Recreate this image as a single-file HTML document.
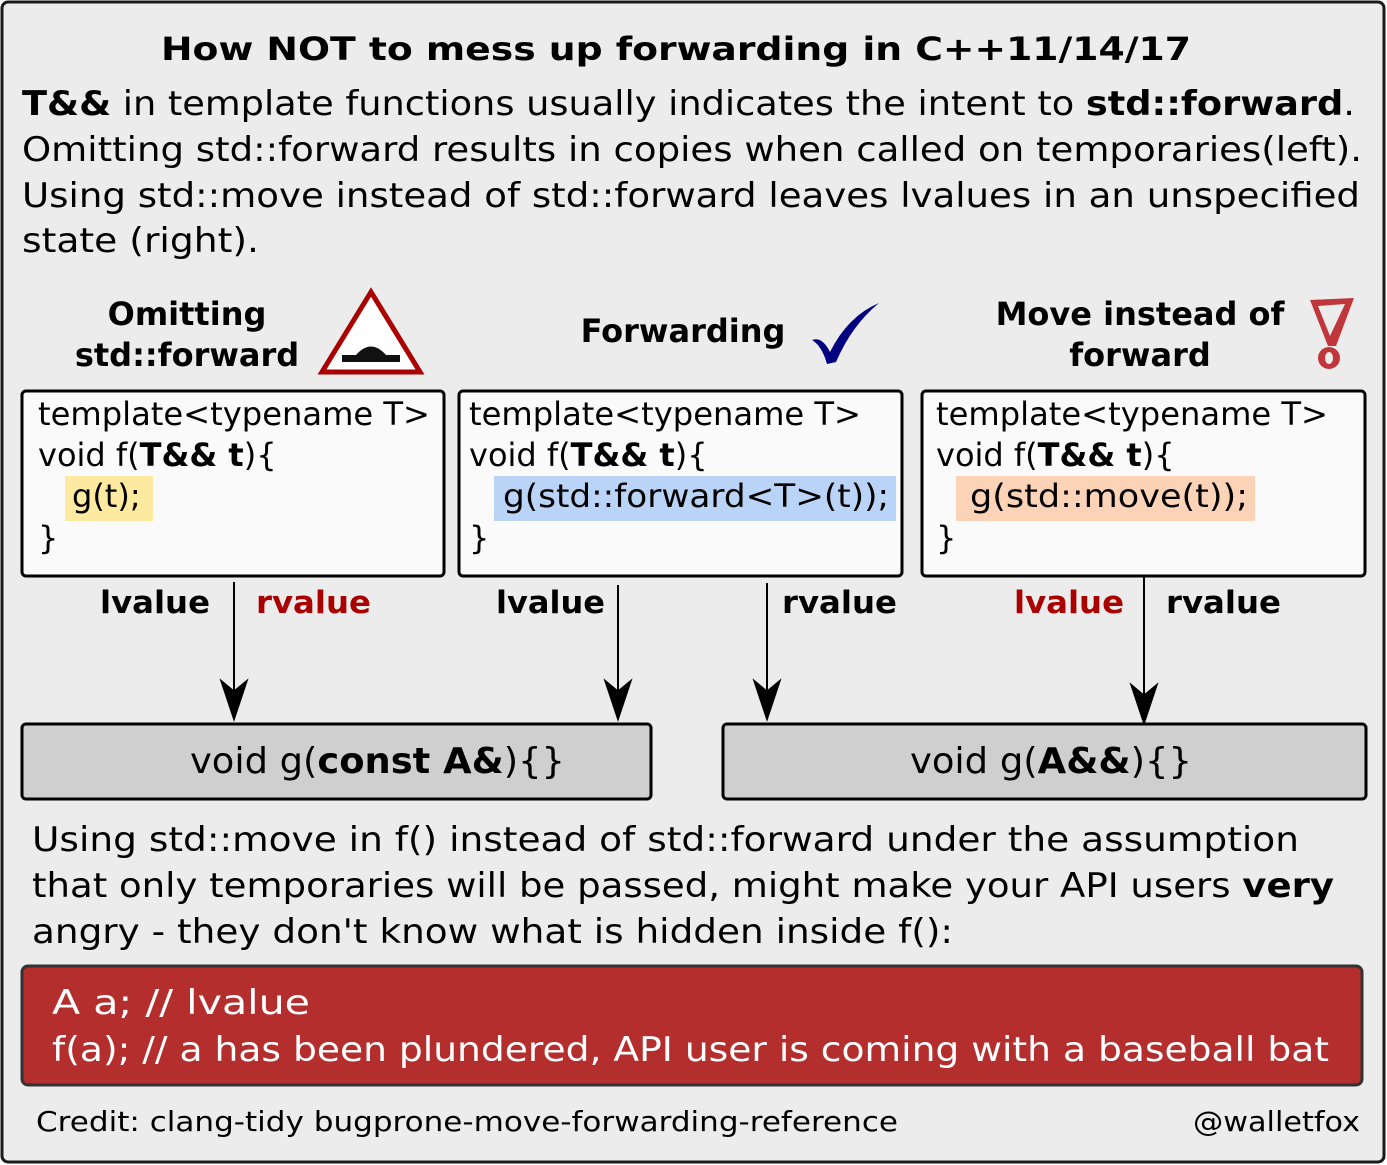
<!DOCTYPE html>
<html><head><meta charset="utf-8"><style>
html,body{margin:0;padding:0;background:#fff}
svg{display:block}
text{font-family:"DejaVu Sans","Liberation Sans",sans-serif;fill:#000}
.b{font-weight:bold}
</style></head><body>
<svg width="1387" height="1165" viewBox="0 0 1387 1165" xmlns="http://www.w3.org/2000/svg">
<rect x="2" y="2" width="1382" height="1160" rx="6" fill="#ececec" stroke="#1a1a1a" stroke-width="3"/>
<text x="676" y="60" text-anchor="middle" class="b" font-size="32" textLength="1030" lengthAdjust="spacingAndGlyphs">How NOT to mess up forwarding in C++11/14/17</text>
<g font-size="34">
<text x="22" y="115" textLength="1333" lengthAdjust="spacingAndGlyphs"><tspan font-weight="bold">T&amp;&amp;</tspan> in template functions usually indicates the intent to <tspan font-weight="bold">std::forward</tspan>.</text>
<text x="22" y="161" textLength="1340" lengthAdjust="spacingAndGlyphs">Omitting std::forward results in copies when called on temporaries(left).</text>
<text x="22" y="207" textLength="1338" lengthAdjust="spacingAndGlyphs">Using std::move instead of std::forward leaves lvalues in an unspecified</text>
<text x="22" y="252" textLength="237" lengthAdjust="spacingAndGlyphs">state (right).</text>
</g>
<g font-size="32" font-weight="bold" text-anchor="middle">
<text x="187" y="325">Omitting</text>
<text x="187" y="366">std::forward</text>
<text x="683" y="342">Forwarding</text>
<text x="1140" y="325">Move instead of</text>
<text x="1140" y="366">forward</text>
</g>
<polygon points="371,292 420,372 322,372" fill="#fff" stroke="#a00" stroke-width="5"/>
<path d="M342,362 L400,362 L400,355 L386,355 Q371,338 356,355 L342,355 Z" fill="#111"/>
<path d="M812,340 Q822,336 830,352 Q848,316 879,303 Q852,325 836,362 L827,364 Q822,346 812,340 Z" fill="#000080"/>
<path d="M1310,300 L1354,298 L1336,346 L1328,346 Z M1318,306 L1330,336 L1345,304 Z" fill="#c0363a" fill-rule="evenodd"/>
<ellipse cx="1329" cy="358" rx="11" ry="11" fill="#c0363a"/><ellipse cx="1329" cy="358" rx="4" ry="6" fill="#ececec"/>
<rect x="22" y="391" width="422" height="185" rx="4" fill="#fafafa" stroke="#000" stroke-width="3"/>
<rect x="459" y="391" width="443" height="185" rx="4" fill="#fafafa" stroke="#000" stroke-width="3"/>
<rect x="922" y="391" width="443" height="185" rx="4" fill="#fafafa" stroke="#000" stroke-width="3"/>
<rect x="65" y="476" width="88" height="45" fill="#fde9a0"/>
<rect x="494" y="476" width="402" height="45" fill="#b9d4f7"/>
<rect x="956" y="476" width="299" height="45" fill="#fcd3b6"/>
<g font-size="32">
<text x="38" y="425" textLength="392" lengthAdjust="spacingAndGlyphs">template&lt;typename T&gt;</text>
<text x="38" y="466">void f(<tspan font-weight="bold">T&amp;&amp; t</tspan>){</text>
<text x="72" y="507">g(t);</text>
<text x="38" y="549">}</text>
<text x="469" y="425" textLength="392" lengthAdjust="spacingAndGlyphs">template&lt;typename T&gt;</text>
<text x="469" y="466">void f(<tspan font-weight="bold">T&amp;&amp; t</tspan>){</text>
<text x="503" y="507" textLength="386" lengthAdjust="spacingAndGlyphs">g(std::forward&lt;T&gt;(t));</text>
<text x="469" y="549">}</text>
<text x="936" y="425" textLength="392" lengthAdjust="spacingAndGlyphs">template&lt;typename T&gt;</text>
<text x="936" y="466">void f(<tspan font-weight="bold">T&amp;&amp; t</tspan>){</text>
<text x="970" y="507" textLength="278" lengthAdjust="spacingAndGlyphs">g(std::move(t));</text>
<text x="936" y="549">}</text>
</g>
<g font-size="31" font-weight="bold">
<text x="100" y="613" textLength="110" lengthAdjust="spacingAndGlyphs">lvalue</text>
<text x="256" y="613" textLength="115" lengthAdjust="spacingAndGlyphs" style="fill:#a00">rvalue</text>
<text x="496" y="613" textLength="109" lengthAdjust="spacingAndGlyphs">lvalue</text>
<text x="782" y="613" textLength="115" lengthAdjust="spacingAndGlyphs">rvalue</text>
<text x="1014" y="613" textLength="110" lengthAdjust="spacingAndGlyphs" style="fill:#a00">lvalue</text>
<text x="1166" y="613" textLength="115" lengthAdjust="spacingAndGlyphs">rvalue</text>
</g>
<g stroke="#000" stroke-width="2" fill="none">
<line x1="234" y1="582" x2="234" y2="700"/>
<line x1="618" y1="585" x2="618" y2="700"/>
<line x1="767" y1="583" x2="767" y2="700"/>
<line x1="1144" y1="577" x2="1144" y2="704"/>
</g>
<g stroke="#000" stroke-width="2.5">
<path d="M234,718 l-12,-36 l12,10 l12,-10 z M618,718 l-12,-36 l12,10 l12,-10 z M767,718 l-12,-36 l12,10 l12,-10 z M1144,722 l-12,-36 l12,10 l12,-10 z" fill="#000"/>
</g>
<rect x="22" y="724" width="629" height="75" rx="4" fill="#cfcfcf" stroke="#000" stroke-width="3"/>
<rect x="723" y="724" width="643" height="75" rx="4" fill="#cfcfcf" stroke="#000" stroke-width="3"/>
<g font-size="36">
<text x="190" y="773" textLength="375" lengthAdjust="spacingAndGlyphs">void g(<tspan font-weight="bold">const A&amp;</tspan>){}</text>
<text x="910" y="773" textLength="282" lengthAdjust="spacingAndGlyphs">void g(<tspan font-weight="bold">A&amp;&amp;</tspan>){}</text>
</g>
<g font-size="34">
<text x="32" y="851" textLength="1267" lengthAdjust="spacingAndGlyphs">Using std::move in f() instead of std::forward under the assumption</text>
<text x="32" y="897" textLength="1302" lengthAdjust="spacingAndGlyphs">that only temporaries will be passed, might make your API users <tspan font-weight="bold">very</tspan></text>
<text x="32" y="943" textLength="921" lengthAdjust="spacingAndGlyphs">angry - they don't know what is hidden inside f():</text>
</g>
<rect x="22" y="966" width="1340" height="119" rx="6" fill="#b52e2e" stroke="#333" stroke-width="3"/>
<g font-size="34">
<text x="52" y="1014" style="fill:#fff" textLength="258" lengthAdjust="spacingAndGlyphs">A a;  // lvalue</text>
<text x="52" y="1061" style="fill:#fff" textLength="1277" lengthAdjust="spacingAndGlyphs">f(a); // a has been plundered, API user is coming with a baseball bat</text>
</g>
<g font-size="28">
<text x="36" y="1131" textLength="862" lengthAdjust="spacingAndGlyphs">Credit: clang-tidy bugprone-move-forwarding-reference</text>
<text x="1193" y="1131" textLength="167" lengthAdjust="spacingAndGlyphs">@walletfox</text>
</g>
</svg>
</body></html>
